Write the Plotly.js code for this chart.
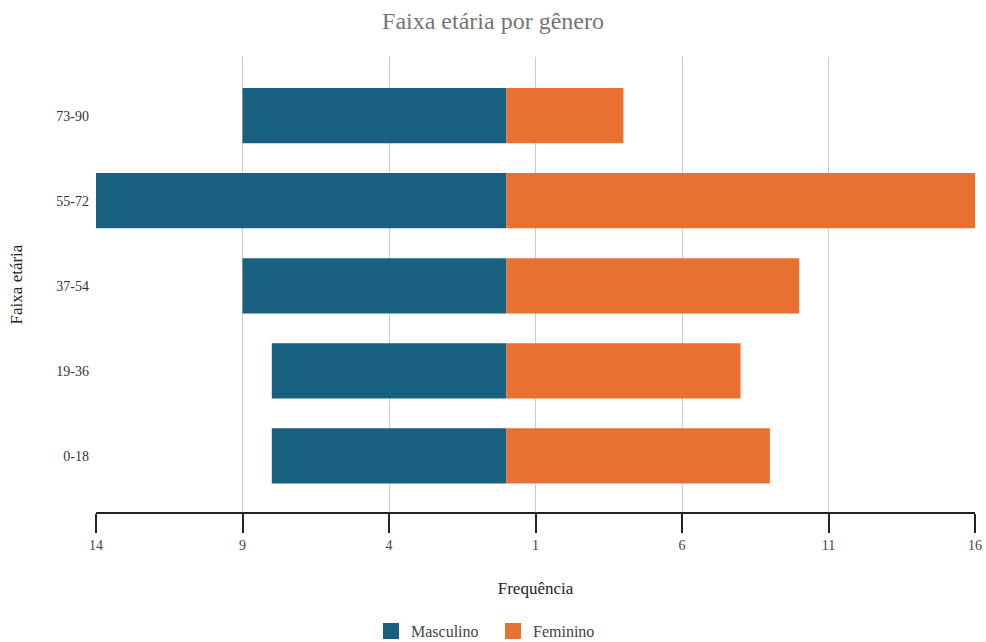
<!DOCTYPE html>
<html><head><meta charset="utf-8">
<script src="https://cdn.plot.ly/plotly-3.0.1.min.js"></script>
<style>html,body{margin:0;padding:0;background:#fff}#chart{width:986px;height:642px}</style>
</head><body><div id="chart"></div>
<script>
const categories = ["0-18", "19-36", "37-54", "55-72", "73-90"];
const masculino = [8, 8, 9, 14, 9];
const feminino = [9, 8, 10, 16, 4];
const tickVals = [-14, -9, -4, 1, 6, 11, 16];
const tickText = ["14", "9", "4", "1", "6", "11", "16"];
const seriesNames = ["Masculino", "Feminino"];
const seriesColors = ["#17607f", "#e87131"];

const serif = "Liberation Serif";
const traces = [
  {type: "bar", orientation: "h", name: seriesNames[0], y: categories,
   x: masculino.map(v => -v), marker: {color: seriesColors[0]}, hoverinfo: "skip", showlegend: false},
  {type: "bar", orientation: "h", name: seriesNames[1], y: categories,
   x: feminino, marker: {color: seriesColors[1]}, hoverinfo: "skip", showlegend: false},
  {type: "scatter", mode: "markers", name: seriesNames[0], x: [null], y: [null],
   marker: {symbol: "square", size: 20, color: seriesColors[0]}, showlegend: true},
  {type: "scatter", mode: "markers", name: seriesNames[1], x: [null], y: [null],
   marker: {symbol: "square", size: 20, color: seriesColors[1]}, showlegend: true}
];
const layout = {
  width: 986, height: 642,
  margin: {l: 96, r: 11, t: 57, b: 130},
  paper_bgcolor: "#fff", plot_bgcolor: "#fff",
  barmode: "relative", bargap: 0.35,
  font: {family: serif, color: "#444", size: 14},
  title: {text: "Faixa etária por gênero", x: 0.5, xanchor: "center", y: 0.968, yanchor: "middle",
          font: {family: serif, size: 24, color: "#757575"}},
  xaxis: {range: [-14, 16], tickvals: tickVals, ticktext: tickText, automargin: false,
          showgrid: true, gridcolor: "#cccccc", gridwidth: 1, zeroline: false,
          showline: true, linecolor: "#222", linewidth: 2,
          ticks: "outside", ticklen: 19, tickwidth: 2, tickcolor: "#222",
          tickfont: {family: serif, size: 14, color: "#444"},
          title: {text: "Frequência", standoff: 30, font: {family: serif, size: 17, color: "#222"}}},
  yaxis: {type: "category", categoryarray: categories, categoryorder: "array",
          range: [-0.66, 4.69], showgrid: false, zeroline: false, automargin: false,
          showline: false, ticks: "", ticklabelstandoff: 6,
          tickfont: {family: serif, size: 14, color: "#333"},
          title: {text: "Faixa etária", standoff: 29, font: {family: serif, size: 17, color: "#222"}}},
  legend: {orientation: "h", x: 0.5, xanchor: "center", xref: "container",
           y: 0.017, yanchor: "middle", yref: "container",
           font: {family: serif, size: 16, color: "#444"}, itemwidth: 30, traceorder: "normal",
           itemsizing: "trace", entrywidth: 77, entrywidthmode: "pixels"},
  showlegend: true
};
Plotly.newPlot("chart", traces, layout, {displayModeBar: false, staticPlot: true});
</script></body></html>
